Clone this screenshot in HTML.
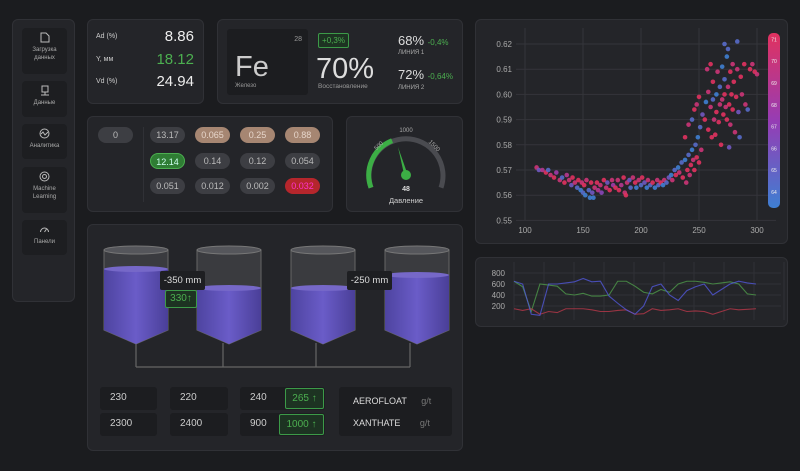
<!DOCTYPE html>
<html><head><meta charset="utf-8"><style>
*{box-sizing:border-box;margin:0;padding:0}
body{width:800px;height:471px;background:#1b1c1f;font-family:"Liberation Sans",sans-serif;color:#ddd;position:relative;overflow:hidden}
.card{position:absolute;background:#242529;border:1px solid #303136;border-radius:6px}
.abs{position:absolute}
.nav{position:absolute;left:9px;width:45px;background:#1d1e21;border-radius:4px;text-align:center;font-size:6px;color:#aaa;line-height:8px}
.nav svg{display:block;margin:4px auto 3px}
.pill{position:absolute;width:35px;height:16px;border-radius:8px;background:#3d3e43;color:#bbb;font-size:9px;text-align:center;line-height:16px}
.inp{position:absolute;background:#1c1d20;border-radius:3px;font-size:10px;color:#ccc;line-height:22px;padding-left:10px}
.gbox{position:absolute;border:1px solid #3c9a48;background:#1d3322;color:#4caf50;font-size:10px;text-align:center;border-radius:2px}
</style></head><body>
<div class="card" style="left:12px;top:19px;width:63px;height:283px">
 <div class="nav" style="top:8px;height:46px"><svg width="10" height="11" viewBox="0 0 10 11"><path d="M1 1h5l3 3v6H1z" fill="none" stroke="#bbb"/></svg>Загрузка<br>данных</div>
 <div class="nav" style="top:61px;height:36px"><svg width="10" height="11"><rect x="2" y="1" width="6" height="6" fill="none" stroke="#bbb"/><path d="M5 7v3M1 10h8" stroke="#bbb"/></svg>Данные</div>
 <div class="nav" style="top:104px;height:35px"><svg width="11" height="11"><circle cx="5.5" cy="5.5" r="4.5" fill="none" stroke="#bbb"/><path d="M2 6l2-2 2 3 3-3" fill="none" stroke="#bbb"/></svg>Аналитика</div>
 <div class="nav" style="top:147px;height:46px"><svg width="11" height="11"><circle cx="5.5" cy="5.5" r="4.5" fill="none" stroke="#bbb"/><circle cx="5.5" cy="5.5" r="2" fill="none" stroke="#bbb"/></svg>Machine<br>Learning</div>
 <div class="nav" style="top:200px;height:35px"><svg width="11" height="11"><path d="M1.5 8a4 4 0 1 1 8 0" fill="none" stroke="#bbb"/><path d="M5.5 8l2-3" stroke="#bbb"/></svg>Панели</div>
</div>

<div class="card" style="left:87px;top:19px;width:117px;height:85px">
 <div class="abs" style="left:8px;top:13px;font-size:7px;color:#ccc">Ad (%)</div>
 <div class="abs" style="right:9px;top:8px;font-size:15px;color:#eee">8.86</div>
 <div class="abs" style="left:8px;top:36px;font-size:7px;color:#ccc">Y, мм</div>
 <div class="abs" style="right:9px;top:31px;font-size:15px;color:#4caf50">18.12</div>
 <div class="abs" style="left:8px;top:58px;font-size:7px;color:#ccc">Vd (%)</div>
 <div class="abs" style="right:9px;top:53px;font-size:15px;color:#eee">24.94</div>
</div>

<div class="card" style="left:217px;top:19px;width:246px;height:85px">
 <div class="abs" style="left:9px;top:9px;width:81px;height:66px;background:#1c1d20;border-radius:3px">
  <div class="abs" style="right:6px;top:7px;font-size:7px;color:#999">28</div>
  <div class="abs" style="left:8px;top:22px;font-size:29px;color:#ccc">Fe</div>
  <div class="abs" style="left:8px;top:54px;font-size:6px;color:#999">Железо</div>
 </div>
 <div class="gbox" style="left:100px;top:13px;width:31px;height:15px;font-size:8px;line-height:13px">+0,3%</div>
 <div class="abs" style="left:98px;top:33px;font-size:29px;color:#ddd">70%</div>
 <div class="abs" style="left:100px;top:63px;font-size:6.5px;color:#999">Восстановление</div>
 <div class="abs" style="left:180px;top:13px;font-size:13px;color:#ddd">68% <span style="font-size:8px;color:#4caf50">-0,4%</span></div>
 <div class="abs" style="left:180px;top:30px;font-size:6px;color:#aaa">ЛИНИЯ 1</div>
 <div class="abs" style="left:180px;top:47px;font-size:13px;color:#ddd">72% <span style="font-size:8px;color:#4caf50">-0,64%</span></div>
 <div class="abs" style="left:180px;top:65px;font-size:6px;color:#aaa">ЛИНИЯ 2</div>
</div>

<div class="card" style="left:87px;top:116px;width:246px;height:96px">
 <div class="pill" style="left:10px;top:10px">0</div>
 <div class="abs" style="left:55px;top:10px;width:1px;height:75px;background:#303136"></div>
 <div class="pill" style="left:62px;top:10px">13.17</div>
 <div class="pill" style="left:107px;top:10px;background:#a68672;color:#e7d6cb">0.065</div>
 <div class="pill" style="left:152px;top:10px;background:#a68672;color:#e7d6cb">0.25</div>
 <div class="pill" style="left:197px;top:10px;background:#a68672;color:#e7d6cb">0.88</div>
 <div class="pill" style="left:62px;top:36px;background:#2f7d34;color:#cfe;border:1px solid #4caf50">12.14</div>
 <div class="pill" style="left:107px;top:36px">0.14</div>
 <div class="pill" style="left:152px;top:36px">0.12</div>
 <div class="pill" style="left:197px;top:36px">0.054</div>
 <div class="pill" style="left:62px;top:61px">0.051</div>
 <div class="pill" style="left:107px;top:61px">0.012</div>
 <div class="pill" style="left:152px;top:61px">0.002</div>
 <div class="pill" style="left:197px;top:61px;background:#b5262c;color:#f3c">0.032</div>
</div>

<div class="card" style="left:346px;top:116px;width:117px;height:96px">
 <svg width="117" height="96" style="position:absolute;left:0;top:0">
  <g transform="translate(59,58)">
   <path d="M-35,12.7 A37,37 0 1 1 35,12.7" fill="none" stroke="#4a4b50" stroke-width="5"/>
   <path d="M-35,12.7 A37,37 0 0 1 -13.9,-34.3" fill="none" stroke="#3cae45" stroke-width="5"/>
   <polygon points="-1.8,0 1.8,0 -8,-28" fill="#3cae45"/>
   <circle cx="0" cy="0" r="5" fill="#3cae45"/>
   <text x="-26" y="-28" font-size="6" fill="#aaa" transform="rotate(-45 -26 -28)" text-anchor="middle">500</text>
   <text x="0" y="-43" font-size="6" fill="#aaa" text-anchor="middle">1000</text>
   <text x="27" y="-28" font-size="6" fill="#aaa" transform="rotate(45 27 -28)" text-anchor="middle">1500</text>
   <text x="0" y="16" font-size="7" fill="#ddd" text-anchor="middle" font-weight="bold">48</text>
   <text x="0" y="28" font-size="7.5" fill="#ccc" text-anchor="middle">Давление</text>
  </g>
 </svg>
</div>

<div class="card" style="left:87px;top:224px;width:376px;height:227px">
 <svg width="376" height="227" style="position:absolute;left:0;top:0">
  <defs><linearGradient id="lq" x1="0" x2="1"><stop offset="0" stop-color="#4e44a0"/><stop offset=".5" stop-color="#6a5cc8"/><stop offset="1" stop-color="#4a3f98"/></linearGradient></defs>
  <g fill="none" stroke="#666" stroke-width="1.2">
   <path d="M48,118v24M135,118v24M228,118v24M322,118v24M48,142h274"/>
  </g>
  <g><path d="M16,25v80l32,14l32,-14v-80z" fill="#3a3b3f" stroke="#666"/><path d="M16,44v61l32,14l32,-14v-61z" fill="url(#lq)"/><ellipse cx="48" cy="25" rx="32" ry="4" fill="#55565b" stroke="#777"/><ellipse cx="48" cy="44" rx="32" ry="3" fill="#7668c8"/></g>
  <g><path d="M109,25v80l32,14l32,-14v-80z" fill="#3a3b3f" stroke="#666"/><path d="M109,63v42l32,14l32,-14v-42z" fill="url(#lq)"/><ellipse cx="141" cy="25" rx="32" ry="4" fill="#55565b" stroke="#777"/><ellipse cx="141" cy="63" rx="32" ry="3" fill="#7668c8"/></g>
  <g><path d="M203,25v80l32,14l32,-14v-80z" fill="#3a3b3f" stroke="#666"/><path d="M203,63v42l32,14l32,-14v-42z" fill="url(#lq)"/><ellipse cx="235" cy="25" rx="32" ry="4" fill="#55565b" stroke="#777"/><ellipse cx="235" cy="63" rx="32" ry="3" fill="#7668c8"/></g>
  <g><path d="M297,25v80l32,14l32,-14v-80z" fill="#3a3b3f" stroke="#666"/><path d="M297,50v55l32,14l32,-14v-55z" fill="url(#lq)"/><ellipse cx="329" cy="25" rx="32" ry="4" fill="#55565b" stroke="#777"/><ellipse cx="329" cy="50" rx="32" ry="3" fill="#7668c8"/></g>
 </svg>
 <div class="abs" style="left:72px;top:46px;width:45px;height:19px;background:#1e1f22;border-radius:2px;font-size:9.5px;line-height:19px;text-align:center;color:#ddd">-350 mm</div>
 <div class="gbox" style="left:77px;top:65px;width:32px;height:18px;line-height:16px">330↑</div>
 <div class="abs" style="left:259px;top:46px;width:45px;height:19px;background:#1e1f22;border-radius:2px;font-size:9.5px;line-height:19px;text-align:center;color:#ddd">-250 mm</div>
 <div class="inp" style="left:12px;top:162px;width:57px;height:23px">230</div>
 <div class="inp" style="left:12px;top:188px;width:57px;height:23px">2300</div>
 <div class="inp" style="left:82px;top:162px;width:58px;height:23px">220</div>
 <div class="inp" style="left:82px;top:188px;width:58px;height:23px">2400</div>
 <div class="inp" style="left:152px;top:162px;width:85px;height:23px">240</div>
 <div class="inp" style="left:152px;top:188px;width:85px;height:23px">900</div>
 <div class="gbox" style="left:197px;top:163px;width:39px;height:21px;line-height:19px">265 ↑</div>
 <div class="gbox" style="left:191px;top:189px;width:45px;height:21px;line-height:19px">1000 ↑</div>
 <div class="abs" style="left:251px;top:162px;width:113px;height:49px;background:#1c1d20;border-radius:3px;font-size:9px;color:#ddd">
  <div class="abs" style="left:14px;top:9px">AEROFLOAT <span style="color:#777;margin-left:12px">g/t</span></div>
  <div class="abs" style="left:14px;top:31px">XANTHATE <span style="color:#777;margin-left:17px">g/t</span></div>
 </div>
</div>

<div class="card" style="left:475px;top:19px;width:313px;height:225px">
 <svg id="sc" width="313" height="225" style="position:absolute;left:0;top:0"></svg>
</div>
<div class="card" style="left:475px;top:257px;width:313px;height:70px">
 <svg id="lc" width="313" height="70" style="position:absolute;left:0;top:0"></svg>
</div>

<script>
const scX=[110,112,115,118,120,122,125,127,130,132,134,136,138,140,141,143,145,146,148,149,150,151,152,153,155,156,157,158,159,160,162,163,165,166,168,170,171,173,175,176,178,180,181,183,185,186,187,188,190,191,193,195,196,198,200,201,203,205,206,208,210,212,214,215,217,219,220,222,224,226,227,229,230,232,233,235,236,238,239,240,241,242,243,244,245,246,247,248,249,250,251,252,238,241,244,246,248,250,253,255,256,258,258,260,261,262,262,263,264,265,265,266,267,268,268,269,270,270,271,272,272,273,274,274,275,275,276,277,277,278,279,279,280,281,282,283,284,285,286,287,289,290,292,294,296,298,300,272,283,276,260,257];
const scY=[.571,.570,.570,.569,.570,.568,.567,.569,.566,.567,.565,.568,.566,.564,.567,.565,.563,.566,.562,.565,.561,.564,.560,.566,.562,.559,.565,.561,.559,.563,.565,.562,.564,.561,.566,.563,.565,.562,.566,.564,.563,.566,.562,.564,.567,.561,.560,.565,.566,.563,.567,.565,.563,.566,.564,.567,.565,.563,.566,.564,.565,.563,.566,.564,.565,.564,.566,.565,.567,.568,.566,.570,.568,.571,.569,.573,.567,.574,.565,.570,.576,.568,.572,.578,.574,.570,.580,.575,.583,.573,.587,.578,.583,.588,.590,.594,.596,.599,.592,.590,.597,.601,.586,.595,.583,.598,.605,.590,.584,.593,.600,.609,.589,.596,.603,.580,.611,.598,.592,.606,.600,.595,.615,.590,.618,.603,.596,.609,.588,.600,.612,.594,.605,.585,.599,.610,.593,.583,.607,.600,.612,.596,.594,.610,.612,.609,.608,.620,.621,.579,.612,.610];
const scC=[70,66,69,71,65,70,71,68,70,65,71,69,70,66,71,70,65,71,64,70,65,71,64,70,65,64,71,66,64,70,71,69,70,67,71,70,66,71,70,68,71,70,71,69,71,70,71,70,66,65,70,71,64,70,65,71,66,64,70,65,71,64,70,65,71,64,70,65,66,64,70,65,71,64,70,65,71,64,70,71,65,70,71,64,70,71,65,71,64,71,65,70,71,70,65,71,70,71,66,71,64,70,71,70,71,65,71,70,71,71,64,70,71,70,65,71,64,70,71,65,71,70,64,71,65,70,71,71,70,71,70,71,71,70,71,70,66,65,71,70,71,70,65,71,70,71,70,65,65,66,71,70];
const scXTicks=[100,150,200,250,300];
const scYTicks=[0.55,0.56,0.57,0.58,0.59,0.60,0.61,0.62];
const scYLabels=["0.55","0.56","0.57","0.58","0.59","0.60","0.61","0.62"];
const cbTicks=[64,65,66,67,68,69,70,71];

const lnIdx=[0,1,2,3,4,5,6,7,8,9,10,11,12,13,14,15,16,17,18,19,20,21,22,23,24,25,26,27,28];
const lnBlue=[650,600,50,30,600,600,620,640,700,640,650,380,250,130,50,200,550,600,400,300,480,550,600,400,500,600,650,620,600];
const lnGreen=[650,550,100,600,580,560,420,400,430,380,380,400,650,650,560,450,420,500,450,600,650,650,630,600,620,640,600,420,400];
const lnRed=[150,120,150,50,100,80,150,150,150,130,100,100,120,130,50,60,150,120,130,150,100,110,100,50,100,150,130,140,150];
const lnYTicks=[200,400,600,800];

const NS="http://www.w3.org/2000/svg";
function mk(svg,tag,at){const e=document.createElementNS(NS,tag);for(const k in at)e.setAttribute(k,at[k]);svg.appendChild(e);return e;}
function cmap(v){const t=(v-64)/7;const a=[63,127,210],b=[150,60,180],c=[225,50,95];let r;
 if(t<.5){const u=t/.5;r=a.map((x,i)=>x+(b[i]-x)*u)}else{const u=(t-.5)/.5;r=b.map((x,i)=>x+(c[i]-x)*u)}
 return `rgb(${r.map(Math.round).join(',')})`;}
const sc=document.getElementById('sc');
const sx=v=>49+(v-100)*1.16, sy=v=>24+(0.62-v)*2520;
scXTicks.forEach(t=>{const l=mk(sc,'line',{x1:sx(t),x2:sx(t),y1:8,y2:200,stroke:'#34353a'});
 
 
 const tx=mk(sc,'text',{x:sx(t),y:213,'font-size':8,fill:'#aaa','text-anchor':'middle'});tx.textContent=t;
 
 });
scYTicks.forEach((t,i)=>{const l=mk(sc,'line',{x1:40,x2:300,y1:sy(t),y2:sy(t),stroke:'#34353a'});
 
 
 const tx=mk(sc,'text',{x:36,y:sy(t)+3,'font-size':8,fill:'#aaa','text-anchor':'end'});tx.textContent=scYLabels[i];
 
 });
scX.forEach((x,i)=>{const c=mk(sc,'circle',{cx:sx(x),cy:sy(scY[i]),r:2.3,fill:cmap(scC[i]),opacity:.9});
 
 });
const g=mk(sc,'linearGradient',{id:'cb',x1:0,y1:1,x2:0,y2:0});
mk(g,'stop',{offset:0,'stop-color':cmap(64)});mk(g,'stop',{offset:.5,'stop-color':cmap(67.5)});mk(g,'stop',{offset:1,'stop-color':cmap(71)});
const cb=mk(sc,'rect',{x:292,y:13,width:12,height:175,rx:5,fill:'url(#cb)'});


cbTicks.forEach(t=>{const tx=mk(sc,'text',{x:298,y:172-(t-64)*21.8+2,'font-size':5,fill:'#eee','text-anchor':'middle'});tx.textContent=t;
 
 });
const lc=document.getElementById('lc');
const lx=i=>38+i*(242/28), ly=v=>59-v*0.055;
for(let k=0;k<10;k++){const l=mk(lc,'line',{x1:38+k*30,x2:38+k*30,y1:4,y2:62,stroke:'#303136'});
 
 }
lnYTicks.forEach(t=>{const l=mk(lc,'line',{x1:38,x2:305,y1:ly(t),y2:ly(t),stroke:'#303136'});
 
 
 const tx=mk(lc,'text',{x:29,y:ly(t)+3,'font-size':8,fill:'#aaa','text-anchor':'end'});tx.textContent=t;
 
 });
[[lnGreen,'#4e9a4a','series-green'],[lnRed,'#b8384a','series-red'],[lnBlue,'#5157d8','series-blue']].forEach(([d,c,n])=>{
 const p=mk(lc,'polyline',{points:d.map((v,i)=>lx(lnIdx[i])+','+ly(v)).join(' '),fill:'none',stroke:c,'stroke-width':1.1,opacity:.8});
 
 });
</script>
</body></html>
